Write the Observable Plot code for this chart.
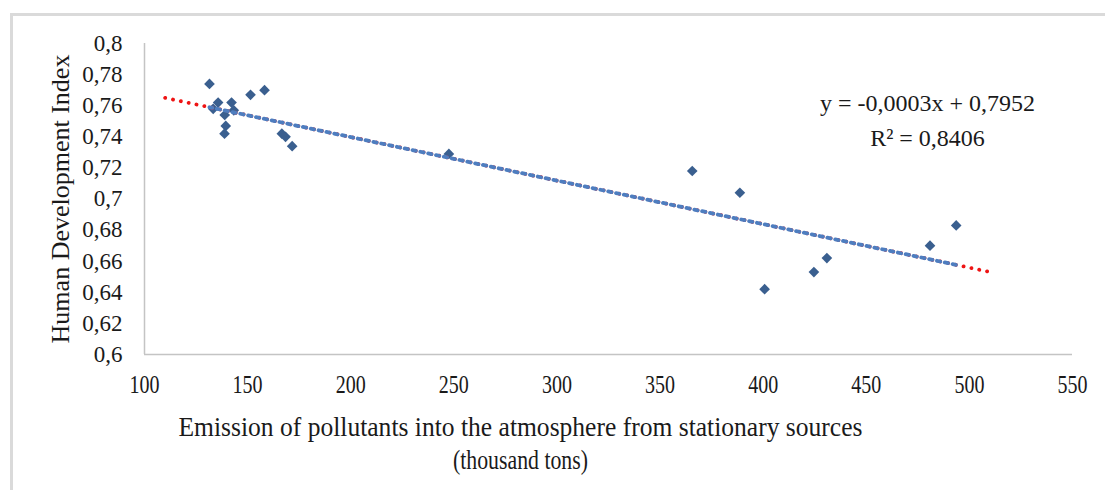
<!DOCTYPE html>
<html><head><meta charset="utf-8">
<script src="https://cdn.jsdelivr.net/npm/d3@7"></script>
<script src="https://cdn.jsdelivr.net/npm/@observablehq/plot@0.6"></script>
<style>
html,body{margin:0;padding:0;background:#fff;}
#wrap{position:relative;width:1105px;height:490px;overflow:hidden;}
#border{position:absolute;left:10px;top:13px;width:1200px;height:600px;border:3px solid #dadada;box-sizing:border-box;}
#chart{position:absolute;left:0;top:0;}
</style></head><body>
<div id="wrap"><div id="border"></div><div id="chart"></div></div>
<script>
// Emission of pollutants (thousand tons) and HDI
const emissions = [131.5, 135.7, 133.3, 142.2, 143.3, 138.9, 139.4, 138.8, 151.4, 158.2, 166.6, 168.4, 171.6, 247.6, 365.6, 388.7, 400.7, 424.6, 430.9, 480.9, 493.6];
const hdi       = [0.774, 0.762, 0.758, 0.762, 0.757, 0.754, 0.747, 0.742, 0.767, 0.770, 0.742, 0.740, 0.734, 0.729, 0.718, 0.704, 0.642, 0.653, 0.662, 0.670, 0.683];
const xTicks = [100, 150, 200, 250, 300, 350, 400, 450, 500, 550];
const yTicks = [0.6, 0.62, 0.64, 0.66, 0.68, 0.7, 0.72, 0.74, 0.76, 0.78, 0.8];
const forecastRange = [110, 512];
const equationLines = ["y = -0,0003x + 0,7952", "R² = 0,8406"];
const xTitleLines = ["Emission of pollutants into the atmosphere from stationary sources", "(thousand tons)"];
const yTitle = "Human Development Index";

const points = emissions.map((x, i) => ({x, y: hdi[i]}));
const mx = d3.mean(emissions), my = d3.mean(hdi);
const slope = d3.sum(points, p => (p.x - mx) * (p.y - my)) / d3.sum(points, p => (p.x - mx) ** 2);
const intercept = my - slope * mx;
const trendRed = forecastRange.map(x => ({x, y: intercept + slope * x}));
const trendBlue = d3.extent(emissions).map(x => ({x, y: intercept + slope * x}));
const comma = d => String(d).replace(".", ",");
const serif = "'Liberation Serif', 'Times New Roman', serif";
const axisGray = "#c4c4c4";

const plot = Plot.plot({
  width: 1105, height: 490,
  marginLeft: 144, marginRight: 33, marginTop: 43, marginBottom: 136,
  style: {fontFamily: serif, background: "transparent", color: "#1a1a1a", overflow: "visible"},
  x: {domain: [100, 550]},
  y: {domain: [0.6, 0.8]},
  marks: [
    Plot.axisX({ticks: xTicks, tickSize: 0, tickPadding: 21, tickFormat: d => String(d), fontSize: 25, label: null}),
    Plot.axisY({ticks: yTicks, tickSize: 0, tickPadding: 22, tickFormat: comma, fontSize: 23, label: null}),
    Plot.ruleX([100], {y1: 0.6, y2: 0.8, stroke: axisGray, strokeWidth: 1.5}),
    Plot.ruleY([0.6], {stroke: axisGray, strokeWidth: 1.5}),
    Plot.dot(points, {x: "x", y: "y", symbol: "diamond2", r: 4.8, fill: "#3A5F8F", stroke: null}),
    Plot.line(trendRed, {x: "x", y: "y", stroke: "#ee1414", strokeWidth: 3.8, strokeDasharray: "0.1,7.9", strokeLinecap: "round"}),
    Plot.line(trendBlue, {x: "x", y: "y", stroke: "#4E7DBF", strokeWidth: 3.8, strokeDasharray: "3.4,4.6", strokeDashoffset: 0.5}),
    Plot.text([equationLines.join("\n")], {frameAnchor: "top-right", dx: -145, dy: 74, lineAnchor: "middle", textAnchor: "middle", lineHeight: 35 / 24, fontSize: 24, fill: "#1a1a1a"}),
    Plot.text([xTitleLines[0]], {frameAnchor: "bottom", dx: -88, dy: 73, lineAnchor: "middle", fontSize: 28, fill: "#1a1a1a"}),
    Plot.text([xTitleLines[1]], {frameAnchor: "bottom", dx: -88, dy: 106, lineAnchor: "middle", fontSize: 28, fill: "#1a1a1a"}),
    Plot.text([yTitle], {frameAnchor: "left", dx: -84, rotate: -90, lineAnchor: "middle", textAnchor: "middle", fontSize: 26, fill: "#1a1a1a"})
  ]
});
document.getElementById("chart").appendChild(plot);

// condensed look of the horizontal axis texts
function squeezeText(t, len) {
  t.setAttribute("textLength", len);
  t.setAttribute("lengthAdjust", "spacingAndGlyphs");
}
const allTexts = Array.from(plot.querySelectorAll("text"));
plot.querySelectorAll('g[aria-label="x-axis tick label"] text').forEach(t => squeezeText(t, t.getComputedTextLength() * 0.8));
allTexts.filter(t => t.textContent === xTitleLines[0]).forEach(t => squeezeText(t, 684));
allTexts.filter(t => t.textContent === xTitleLines[1]).forEach(t => squeezeText(t, 135));
</script>
</body></html>
